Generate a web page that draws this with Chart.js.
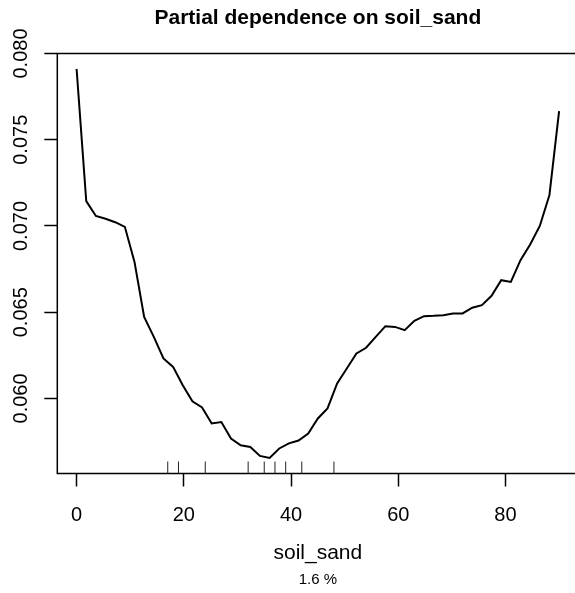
<!DOCTYPE html>
<html>
<head>
<meta charset="utf-8">
<script src="https://cdn.jsdelivr.net/npm/chart.js@4.4.1/dist/chart.umd.min.js"></script>
<style>
html,body{margin:0;padding:0;background:#fff;overflow:hidden;}
#wrap{width:575px;height:593px;overflow:hidden;position:relative;}
canvas{display:block;}
</style>
</head>
<body>
<div id="wrap"><canvas id="c" width="636" height="593" style="width:636px;height:593px"></canvas></div>
<script>
// ---- data ----
const soilSand = [0, 1.8, 3.6, 5.4, 7.2, 9.0, 10.8, 12.6, 14.4, 16.2, 18.0, 19.8, 21.6, 23.4, 25.2, 27.0, 28.8, 30.6, 32.4, 34.2, 36.0, 37.8, 39.6, 41.4, 43.2, 45.0, 46.8, 48.6, 50.4, 52.2, 54.0, 55.8, 57.6, 59.4, 61.2, 63.0, 64.8, 66.6, 68.4, 70.2, 72.0, 73.8, 75.6, 77.4, 79.2, 81.0, 82.8, 84.6, 86.4, 88.2, 90.0];
const partialDep = [0.07910, 0.07144, 0.07058, 0.07042, 0.07022, 0.06995, 0.06792, 0.06473, 0.06357, 0.06232, 0.06183, 0.06077, 0.05984, 0.05948, 0.05855, 0.05863, 0.05768, 0.05729, 0.05719, 0.05667, 0.05655, 0.05710, 0.05740, 0.05756, 0.05797, 0.05884, 0.05942, 0.06087, 0.06174, 0.06261, 0.06294, 0.06357, 0.06419, 0.06415, 0.06396, 0.06450, 0.06477, 0.06479, 0.06483, 0.06493, 0.06493, 0.06526, 0.06541, 0.06595, 0.06686, 0.06676, 0.06802, 0.06893, 0.07000, 0.07180, 0.07666];
const rugDeciles = [17, 19, 24, 32, 35, 37, 39, 42, 48];
const xTickValues = [0, 20, 40, 60, 80];
const xTickLabels = ['0', '20', '40', '60', '80'];
const yTickValues = [0.060, 0.065, 0.070, 0.075, 0.080];
const yTickLabels = ['0.060', '0.065', '0.070', '0.075', '0.080'];
const titleText = 'Partial dependence on soil_sand';
const xAxisTitle = 'soil_sand';
const xAxisSub = '1.6 %';
const xRange = [-3.6, 93.6];
const yRange = [0.05565, 0.0800];

const FONT = '"Liberation Sans", Arial, Helvetica, sans-serif';

const decor = {
  id: 'decor',
  afterDatasetsDraw(chart) {
    const ctx = chart.ctx;
    const a = chart.chartArea;
    const xs = chart.scales.x, ys = chart.scales.y;
    ctx.save();
    // frame box
    ctx.strokeStyle = '#000';
    ctx.lineWidth = 1.5;
    ctx.strokeRect(a.left, a.top, a.right - a.left, a.bottom - a.top);
    // rug
    ctx.strokeStyle = '#222';
    ctx.lineWidth = 1;
    rugDeciles.forEach(v => {
      const px = xs.getPixelForValue(v);
      ctx.beginPath();
      ctx.moveTo(px, a.bottom);
      ctx.lineTo(px, a.bottom - 12);
      ctx.stroke();
    });
    ctx.fillStyle = '#000';
    // x tick labels
    ctx.font = '20px ' + FONT;
    ctx.textAlign = 'center';
    ctx.textBaseline = 'alphabetic';
    xTickValues.forEach((v, i) => {
      ctx.fillText(xTickLabels[i], xs.getPixelForValue(v), 521);
    });
    // y tick labels (rotated)
    yTickValues.forEach((v, i) => {
      ctx.save();
      ctx.translate(26.7, ys.getPixelForValue(v));
      ctx.rotate(-Math.PI / 2);
      ctx.fillText(yTickLabels[i], 0, 0);
      ctx.restore();
    });
    const cx = (a.left + a.right) / 2;
    // title
    ctx.font = 'bold 21px ' + FONT;
    ctx.fillText(titleText, cx, 23.5);
    // axis title and subtitle
    ctx.font = '21px ' + FONT;
    ctx.fillText(xAxisTitle, cx, 558.5);
    ctx.font = '15px ' + FONT;
    ctx.fillText(xAxisSub, cx, 583.5);
    ctx.restore();
  }
};

new Chart(document.getElementById('c'), {
  type: 'line',
  data: {
    datasets: [{
      data: soilSand.map((x, i) => ({ x: x, y: partialDep[i] })),
      borderColor: '#000',
      borderWidth: 2,
      pointRadius: 0,
      tension: 0,
      fill: false
    }]
  },
  options: {
    responsive: false,
    animation: false,
    devicePixelRatio: 1,
    layout: { padding: { left: 57.3, top: 53.5, right: 57.6, bottom: 119.5 } },
    plugins: { legend: { display: false }, title: { display: false }, tooltip: { enabled: false } },
    scales: {
      x: {
        type: 'linear',
        min: xRange[0], max: xRange[1],
        afterBuildTicks: s => { s.ticks = xTickValues.map(v => ({ value: v })); },
        afterFit: s => { s.height = 0; },
        ticks: { display: false },
        grid: { drawOnChartArea: false, drawTicks: true, tickLength: 13, tickWidth: 1.5, tickColor: '#000' },
        border: { display: false }
      },
      y: {
        type: 'linear',
        min: yRange[0], max: yRange[1],
        afterBuildTicks: s => { s.ticks = yTickValues.map(v => ({ value: v })); },
        afterFit: s => { s.width = 0; },
        ticks: { display: false },
        grid: { drawOnChartArea: false, drawTicks: true, tickLength: 13, tickWidth: 1.5, tickColor: '#000' },
        border: { display: false }
      }
    }
  },
  plugins: [decor]
});
</script>
</body>
</html>
